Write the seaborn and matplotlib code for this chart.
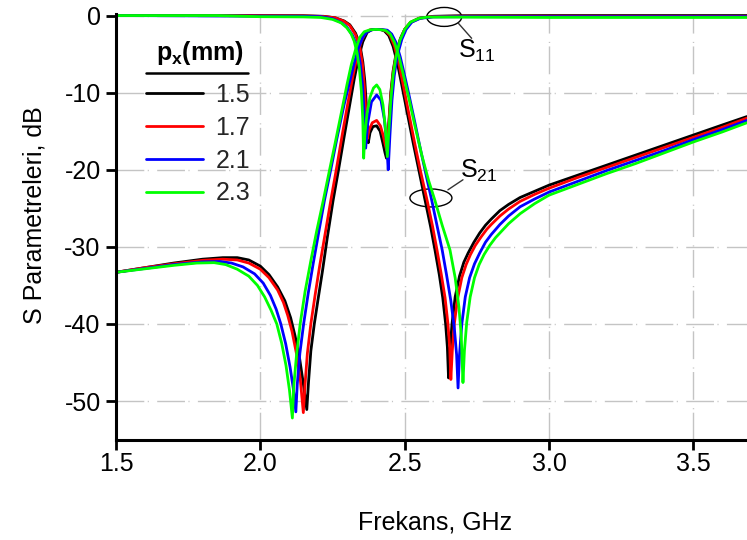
import matplotlib
matplotlib.use("Agg")
import matplotlib.pyplot as plt
import numpy as np
import pandas as pd
import seaborn as sns
from matplotlib.lines import Line2D
from matplotlib.patches import Ellipse

# ---------------- data ----------------
px_labels = ["1.5", "1.7", "2.1", "2.3"]
px_colors = ["#000000", "#ff0000", "#0000ff", "#00ff00"]

# S21, px = 1.5
s21_f_15 = [1.50, 1.60, 1.70, 1.80, 1.87, 1.92, 1.96, 2.00, 2.03, 2.06, 2.085, 2.105, 2.12, 2.135, 2.148,
            2.161, 2.167, 2.175, 2.187, 2.20, 2.215, 2.232, 2.252, 2.27, 2.29, 2.31, 2.325, 2.34, 2.355, 2.37,
            2.385, 2.40, 2.415, 2.43, 2.445, 2.46, 2.475, 2.49, 2.51, 2.53, 2.55, 2.571, 2.59, 2.605, 2.62,
            2.632, 2.642, 2.648, 2.652, 2.657, 2.664, 2.675, 2.69, 2.705, 2.72, 2.74, 2.76, 2.78, 2.80, 2.83,
            2.86, 2.90, 2.95, 3.00, 3.10, 3.20, 3.30, 3.40, 3.50, 3.60, 3.686]
s21_db_15 = [-33.3, -32.7, -32.1, -31.6, -31.4, -31.4, -31.7, -32.5, -33.6, -35.2, -37.0, -39.2, -41.5, -44.2, -47.5,
             -51.1, -47.5, -43.5, -40.0, -36.8, -33.2, -28.8, -24.0, -20.2, -15.8, -11.5, -8.3, -5.5, -3.4, -2.2,
             -1.85, -1.8, -1.8, -2.0, -2.6, -4.0, -6.2, -9.0, -12.8, -16.6, -20.2, -24.0, -27.4, -30.4, -33.6,
             -36.6, -40.0, -43.0, -47.0, -43.5, -40.0, -36.5, -33.8, -32.0, -30.8, -29.4, -28.2, -27.2, -26.4, -25.3,
             -24.5, -23.6, -22.8, -22.0, -20.7, -19.4, -18.1, -16.8, -15.5, -14.2, -13.1]

# S21, px = 1.7
s21_f_17 = [1.50, 1.60, 1.70, 1.80, 1.87, 1.92, 1.96, 2.00, 2.03, 2.06, 2.08, 2.095, 2.11, 2.125, 2.138,
            2.149, 2.155, 2.163, 2.175, 2.19, 2.205, 2.225, 2.245, 2.265, 2.285, 2.305, 2.32, 2.335, 2.35, 2.365,
            2.38, 2.40, 2.42, 2.435, 2.45, 2.465, 2.48, 2.495, 2.515, 2.535, 2.555, 2.578, 2.597, 2.612, 2.627,
            2.64, 2.65, 2.656, 2.660, 2.665, 2.672, 2.683, 2.698, 2.713, 2.728, 2.745, 2.765, 2.785, 2.80, 2.83,
            2.86, 2.90, 2.95, 3.00, 3.10, 3.20, 3.30, 3.40, 3.50, 3.60, 3.686]
s21_db_17 = [-33.3, -32.7, -32.2, -31.75, -31.6, -31.7, -32.1, -32.9, -34.0, -35.6, -37.2, -38.9, -41.0, -43.8, -47.0,
             -51.5, -47.8, -43.8, -40.0, -36.2, -32.6, -28.2, -23.8, -19.6, -15.2, -11.0, -8.0, -5.3, -3.3, -2.2,
             -1.85, -1.8, -1.8, -2.0, -2.6, -4.0, -6.2, -9.0, -12.8, -16.6, -20.2, -24.0, -27.4, -30.4, -33.6,
             -36.6, -40.0, -43.0, -47.2, -43.5, -40.0, -36.8, -34.0, -32.3, -31.0, -29.8, -28.7, -27.7, -27.1, -26.0,
             -25.1, -24.1, -23.2, -22.4, -21.0, -19.7, -18.4, -17.1, -15.8, -14.5, -13.3]

# S21, px = 2.1
s21_f_21 = [1.50, 1.60, 1.70, 1.80, 1.86, 1.90, 1.94, 1.98, 2.01, 2.035, 2.055, 2.071, 2.088, 2.103, 2.114,
            2.123, 2.128, 2.137, 2.150, 2.166, 2.183, 2.20, 2.222, 2.245, 2.265, 2.29, 2.31, 2.325, 2.34, 2.355,
            2.37, 2.39, 2.41, 2.43, 2.44, 2.455, 2.47, 2.485, 2.50, 2.515, 2.535, 2.555, 2.575, 2.594, 2.613,
            2.63, 2.645, 2.66, 2.672, 2.68, 2.685, 2.690, 2.698, 2.71, 2.725, 2.742, 2.76, 2.78, 2.80, 2.83,
            2.86, 2.90, 2.95, 3.00, 3.10, 3.20, 3.30, 3.40, 3.50, 3.60, 3.686]
s21_db_21 = [-33.3, -32.8, -32.3, -31.95, -31.9, -32.1, -32.6, -33.5, -34.7, -36.3, -38.1, -40.0, -42.6, -45.6, -48.3,
             -51.4, -47.8, -43.8, -40.0, -36.0, -32.2, -28.6, -24.0, -19.8, -16.0, -11.6, -8.5, -6.2, -4.2, -2.8,
             -2.1, -1.8, -1.8, -1.85, -1.9, -2.4, -3.5, -5.4, -7.8, -10.3, -13.8, -17.4, -20.8, -24.0, -27.4,
             -30.4, -33.6, -37.0, -40.5, -44.0, -48.3, -44.0, -40.0, -36.5, -34.0, -32.2, -30.8, -29.4, -28.4, -27.1,
             -26.0, -24.8, -23.8, -22.9, -21.5, -20.1, -18.8, -17.5, -16.1, -14.8, -13.6]

# S21, px = 2.3
s21_f_23 = [1.50, 1.60, 1.70, 1.78, 1.84, 1.88, 1.92, 1.96, 1.99, 2.015, 2.037, 2.057, 2.074, 2.089, 2.101,
            2.111, 2.116, 2.125, 2.138, 2.155, 2.175, 2.195, 2.218, 2.24, 2.26, 2.285, 2.30, 2.315, 2.33, 2.345,
            2.36, 2.38, 2.40, 2.42, 2.435, 2.45, 2.465, 2.48, 2.495, 2.515, 2.535, 2.56, 2.583, 2.605, 2.63,
            2.657, 2.675, 2.688, 2.696, 2.702, 2.707, 2.715, 2.727, 2.742, 2.758, 2.775, 2.795, 2.815, 2.83, 2.86,
            2.90, 2.95, 3.00, 3.10, 3.20, 3.30, 3.40, 3.50, 3.60, 3.686]
s21_db_23 = [-33.3, -32.85, -32.4, -32.1, -32.05, -32.3, -32.9, -33.8, -35.0, -36.5, -38.2, -40.0, -42.5, -45.4, -48.6,
             -52.2, -48.0, -44.2, -40.0, -35.8, -31.8, -28.0, -24.0, -20.0, -16.4, -11.8, -9.0, -6.4, -4.4, -2.8,
             -2.1, -1.85, -1.8, -1.85, -1.95, -2.4, -3.5, -5.3, -7.6, -10.8, -14.2, -18.2, -21.4, -24.0, -27.2,
             -30.4, -34.0, -37.8, -41.5, -47.6, -43.5, -39.8, -36.5, -34.0, -32.3, -31.0, -29.8, -28.8, -28.2, -27.0,
             -25.7, -24.4, -23.3, -21.9, -20.5, -19.2, -17.8, -16.4, -15.1, -13.9]

# S11, px = 1.5
s11_f_15 = [1.50, 2.00, 2.15, 2.22, 2.26, 2.29, 2.31, 2.33, 2.345, 2.355, 2.362, 2.368, 2.374, 2.38, 2.39,
            2.403, 2.415, 2.425, 2.432, 2.437, 2.445, 2.452, 2.46, 2.47, 2.485, 2.50, 2.52, 2.55, 2.60, 2.70,
            3.00, 3.686]
s11_db_15 = [0.0, 0.0, -0.02, -0.1, -0.3, -0.7, -1.2, -2.3, -3.8, -6.0, -8.5, -12.0, -16.5, -15.2, -14.4,
             -14.3, -15.0, -16.6, -17.8, -18.5, -14.0, -10.0, -7.2, -5.0, -3.0, -1.8, -0.9, -0.35, -0.1, -0.02,
             0.0, 0.0]

# S11, px = 1.7
s11_f_17 = [1.50, 2.00, 2.15, 2.22, 2.26, 2.29, 2.31, 2.33, 2.345, 2.354, 2.36, 2.365, 2.370, 2.377, 2.388,
            2.403, 2.416, 2.426, 2.433, 2.438, 2.446, 2.453, 2.461, 2.471, 2.486, 2.50, 2.52, 2.55, 2.60, 2.70,
            3.00, 3.686]
s11_db_17 = [0.0, -0.02, -0.05, -0.12, -0.3, -0.75, -1.3, -2.5, -4.2, -6.4, -9.0, -12.2, -16.0, -14.8, -13.9,
             -13.6, -14.3, -15.6, -16.8, -17.5, -13.8, -10.0, -7.2, -5.0, -3.0, -1.8, -0.9, -0.35, -0.12, -0.08,
             -0.08, -0.1]

# S11, px = 2.1
s11_f_21 = [1.50, 2.00, 2.15, 2.21, 2.25, 2.28, 2.30, 2.32, 2.335, 2.346, 2.354, 2.36, 2.365, 2.372, 2.385,
            2.403, 2.418, 2.43, 2.438, 2.443, 2.449, 2.456, 2.464, 2.474, 2.49, 2.505, 2.525, 2.555, 2.60, 2.70,
            3.00, 3.686]
s11_db_21 = [0.0, -0.08, -0.1, -0.15, -0.4, -0.9, -1.5, -2.6, -4.0, -6.2, -9.0, -12.8, -17.2, -14.0, -11.2,
             -10.3, -11.0, -13.5, -16.8, -20.0, -15.5, -11.0, -7.8, -5.3, -3.1, -1.8, -0.85, -0.35, -0.18, -0.15,
             -0.15, -0.15]

# S11, px = 2.3
s11_f_23 = [1.50, 1.85, 2.00, 2.15, 2.21, 2.25, 2.28, 2.30, 2.315, 2.325, 2.335, 2.343, 2.35, 2.355, 2.358,
            2.362, 2.37, 2.38, 2.392, 2.403, 2.414, 2.425, 2.433, 2.44, 2.445, 2.452, 2.46, 2.47, 2.484, 2.50,
            2.52, 2.55, 2.58, 2.65, 3.00, 3.686]
s11_db_23 = [0.0, 0.0, -0.15, -0.18, -0.25, -0.5, -0.95, -1.6, -2.4, -3.3, -4.8, -6.8, -9.8, -13.5, -18.5,
             -15.5, -12.6, -10.6, -9.4, -9.0, -9.6, -11.6, -14.5, -18.3, -15.0, -11.0, -7.8, -5.3, -3.2, -1.8,
             -0.85, -0.35, -0.2, -0.2, -0.25, -0.25]

x_ticks = [1.5, 2.0, 2.5, 3.0, 3.5]
x_tick_labels = ["1.5", "2.0", "2.5", "3.0", "3.5"]
y_ticks = [0, -10, -20, -30, -40, -50]
y_tick_labels = ["0", "-10", "-20", "-30", "-40", "-50"]

# ---------------- build table ----------------
s21_f = [s21_f_15, s21_f_17, s21_f_21, s21_f_23]
s21_db = [s21_db_15, s21_db_17, s21_db_21, s21_db_23]
s11_f = [s11_f_15, s11_f_17, s11_f_21, s11_f_23]
s11_db = [s11_db_15, s11_db_17, s11_db_21, s11_db_23]

frames = []
for lab, f1, d1, f2, d2 in zip(px_labels, s11_f, s11_db, s21_f, s21_db):
    frames.append(pd.DataFrame({"f": f1, "dB": d1, "px": lab, "curve": lab + "_S11"}))
    frames.append(pd.DataFrame({"f": f2, "dB": d2, "px": lab, "curve": lab + "_S21"}))
df = pd.concat(frames, ignore_index=True)

# ---------------- style ----------------
sns.set_theme(style="white")
plt.rcParams["font.family"] = ["Liberation Sans", "DejaVu Sans"]
plt.rcParams["mathtext.fontset"] = "custom"
plt.rcParams["mathtext.rm"] = "Liberation Sans"
plt.rcParams["mathtext.bf"] = "Liberation Sans:bold"
plt.rcParams["mathtext.it"] = "Liberation Sans:italic"
plt.rcParams["axes.unicode_minus"] = False

W, H = 747, 540
fig = plt.figure(figsize=(W / 100, H / 100), dpi=100)
ax_left, ax_right, ax_bottom, ax_top = 116, 747, 440, 14
ax = fig.add_axes([ax_left / W, 1 - ax_bottom / H, (ax_right - ax_left) / W, (ax_bottom - ax_top) / H])

palette = dict(zip(px_labels, px_colors))
sns.lineplot(data=df, x="f", y="dB", hue="px", hue_order=px_labels, units="curve",
             estimator=None, sort=False, palette=palette, linewidth=2.0, legend=False, ax=ax)

ax.set_xlim(1.5, 3.686)
ax.set_ylim(-55.05, 0.2)
ax.set_xticks(x_ticks)
ax.set_xticklabels(x_tick_labels)
ax.set_yticks(y_ticks)
ax.set_yticklabels(y_tick_labels)

ax.set_axisbelow(True)
ax.grid(True, color="#c4c4c4", linewidth=1.0, linestyle=(0, (20, 2.5, 0.8, 6)))

for s in ["top", "right"]:
    ax.spines[s].set_visible(False)
for s in ["left", "bottom"]:
    ax.spines[s].set_color("black")
    ax.spines[s].set_linewidth(2.2)

ax.tick_params(axis="both", which="major", direction="out", length=7, width=2.0, color="black",
               labelsize=18, labelcolor="black", left=True, bottom=True)
ax.tick_params(axis="y", pad=4)
ax.tick_params(axis="x", pad=1.5)

ax.set_xlabel("Frekans, GHz", fontsize=18, color="black")
ax.set_ylabel("S Parametreleri, dB", fontsize=18, color="black")
ax.xaxis.set_label_coords(0.506, -0.166)
ax.yaxis.set_label_coords(-0.11, 0.528)

# ellipse annotations
ax.add_patch(Ellipse((2.637, -0.18), 0.121, 2.46, fill=False, edgecolor="black", linewidth=1.0, clip_on=False))
ax.plot([2.686, 2.732], [-1.0, -2.95], color="#333333", linewidth=1.0)
ax.text(2.685, -5.5, "S$_{\\mathrm{11}}$", fontsize=18, color="black", ha="left", va="baseline")

ax.add_patch(Ellipse((2.591, -23.66), 0.1455, 2.33, fill=False, edgecolor="black", linewidth=1.0))
ax.plot([2.650, 2.702], [-22.6, -21.3], color="#333333", linewidth=1.0)
ax.text(2.692, -21.1, "S$_{\\mathrm{21}}$", fontsize=18, color="black", ha="left", va="baseline")

# legend
handles = [Line2D([], [], color=c, linewidth=2.0) for c in px_colors]
ax.legend(handles, px_labels, loc="upper left", bbox_to_anchor=(146 / W, 1 - 83 / H),
          bbox_transform=fig.transFigure, frameon=False, borderpad=0, borderaxespad=0,
          handlelength=2.28, handletextpad=0.5, labelspacing=0.35, fontsize=18)
fig.text(200 / W, 1 - 53 / H, "$\\mathbf{p_x}$(mm)", ha="center", va="center", fontsize=18,
         fontweight="bold", color="black")
fig.add_artist(Line2D([146 / W, 248 / W], [1 - 73 / H, 1 - 73 / H], transform=fig.transFigure,
                      color="black", linewidth=1.8))

fig.savefig("out.png", dpi=100)
